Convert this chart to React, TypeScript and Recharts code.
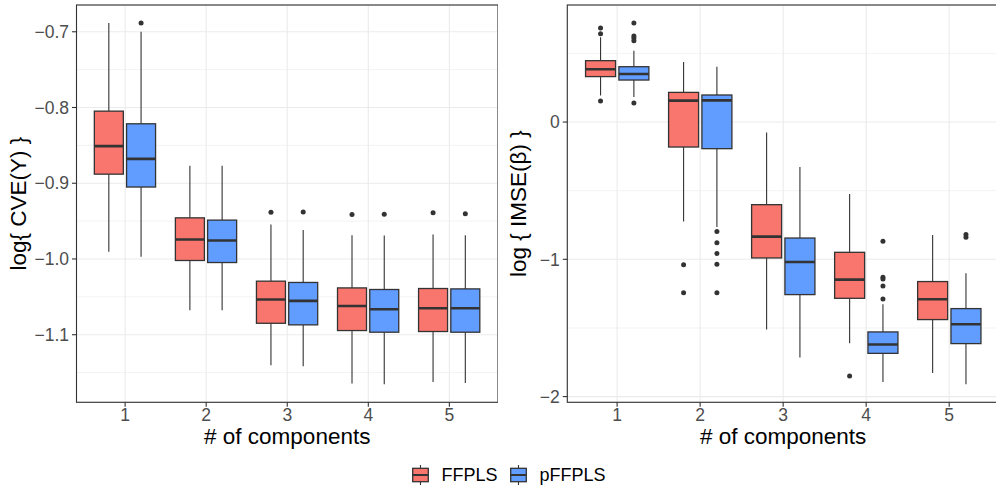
import React from 'react';
import * as Recharts from 'recharts';
import { ComposedChart, Bar, XAxis, YAxis, CartesianGrid } from 'recharts';

const groups = ['1', '2', '3', '4', '5'];

// left panel: log{ CVE(Y) }
const cveFfHigh = [-0.6885, -0.877, -0.9545, -0.9686, -0.9677];
const cveFfQ3 = [-0.8048, -0.9457, -1.0293, -1.0382, -1.039];
const cveFfMed = [-0.851, -0.9742, -1.0535, -1.062, -1.065];
const cveFfQ1 = [-0.888, -1.002, -1.0849, -1.0945, -1.0958];
const cveFfLow = [-0.9906, -1.0676, -1.1403, -1.1645, -1.1623];
const cveFfOut = [[], [], [-0.9382], [-0.9412], [-0.939]];

const cvePfHigh = [-0.7, -0.877, -0.9616, -0.969, -0.9686];
const cvePfQ3 = [-0.8215, -0.9487, -1.031, -1.0403, -1.0395];
const cvePfMed = [-0.8678, -0.9756, -1.0553, -1.0663, -1.065];
const cvePfQ1 = [-0.905, -1.0047, -1.087, -1.0967, -1.0967];
const cvePfLow = [-0.997, -1.0676, -1.1416, -1.1654, -1.1637];
const cvePfOut = [[-0.6885], [], [-0.938], [-0.941], [-0.9404]];

const cveMajor = [-1.1, -1.0, -0.9, -0.8, -0.7];
const cveMinor = [-1.15, -1.05, -0.95, -0.85, -0.75];

// right panel: log { IMSE(beta) }
const imseFfHigh = [0.617, 0.437, -0.077, -0.524, -0.823];
const imseFfQ3 = [0.447, 0.216, -0.602, -0.949, -1.162];
const imseFfMed = [0.384, 0.156, -0.835, -1.148, -1.291];
const imseFfQ1 = [0.331, -0.182, -0.99, -1.284, -1.439];
const imseFfLow = [0.194, -0.725, -1.512, -1.612, -1.828];
const imseFfOut = [[0.685, 0.644, 0.153], [-1.039, -1.243], [], [-1.85], []];

const imsePfHigh = [0.52, 0.403, -0.328, -1.328, -1.102];
const imsePfQ3 = [0.403, 0.197, -0.845, -1.529, -1.359];
const imsePfMed = [0.35, 0.158, -1.02, -1.621, -1.473];
const imsePfQ1 = [0.306, -0.194, -1.257, -1.685, -1.614];
const imsePfLow = [0.182, -0.765, -1.716, -1.894, -1.91];
const imsePfOut = [
  [0.721, 0.626, 0.612, 0.593, 0.138],
  [-0.798, -0.88, -0.958, -1.036, -1.243],
  [],
  [-0.869, -1.131, -1.143, -1.194, -1.289],
  [-0.82, -0.84],
];

const imseMajor = [-2, -1, 0];
const imseMinor = [-1.5, -0.5, 0.5];

const FF_COLOR = '#F8766D';
const PF_COLOR = '#619CFF';
const INK = '#333333';
const FONT = '"Liberation Sans", Arial, Helvetica, sans-serif';

type Stats = { low: number; q1: number; med: number; q3: number; high: number; out: number[] };

const stats = (low: number[], q1: number[], med: number[], q3: number[], high: number[], out: number[][]) =>
  low.map((_, i): Stats => ({ low: low[i], q1: q1[i], med: med[i], q3: q3[i], high: high[i], out: out[i] }));

const span = (s: Stats): [number, number] => [Math.min(s.low, ...s.out), Math.max(s.high, ...s.out)];

function makeRows(ff: Stats[], pf: Stats[]) {
  return groups.map((g, i) => ({ g, ff: ff[i], pf: pf[i], ffRange: span(ff[i]), pfRange: span(pf[i]) }));
}

// ggplot-style 5% expansion
function domainOf(rows: ReturnType<typeof makeRows>): [number, number] {
  const lo = Math.min(...rows.map((r) => Math.min(r.ffRange[0], r.pfRange[0])));
  const hi = Math.max(...rows.map((r) => Math.max(r.ffRange[1], r.pfRange[1])));
  const pad = (hi - lo) * 0.05;
  return [lo - pad, hi + pad];
}

const cveRows = makeRows(
  stats(cveFfLow, cveFfQ1, cveFfMed, cveFfQ3, cveFfHigh, cveFfOut),
  stats(cvePfLow, cvePfQ1, cvePfMed, cvePfQ3, cvePfHigh, cvePfOut)
);
const imseRows = makeRows(
  stats(imseFfLow, imseFfQ1, imseFfMed, imseFfQ3, imseFfHigh, imseFfOut),
  stats(imsePfLow, imsePfQ1, imsePfMed, imsePfQ3, imsePfHigh, imsePfOut)
);

// the bar spans [min, max] of the group; everything else is placed on the same linear scale
const BoxShape = (props: any) => {
  const { x, y, width, height, payload, statKey, boxFill } = props;
  const s: Stats = payload[statKey];
  const [lo, hi] = span(s);
  const top = Math.min(y, y + height);
  const h = Math.abs(height);
  const toY = (v: number) => top + ((hi - v) / (hi - lo)) * h;
  const cx = x + width / 2;
  return (
    <g>
      <line x1={cx} x2={cx} y1={toY(s.high)} y2={toY(s.q3)} stroke={INK} strokeWidth={1.1} />
      <line x1={cx} x2={cx} y1={toY(s.q1)} y2={toY(s.low)} stroke={INK} strokeWidth={1.1} />
      <rect
        x={x}
        y={toY(s.q3)}
        width={width}
        height={toY(s.q1) - toY(s.q3)}
        fill={boxFill}
        stroke={INK}
        strokeWidth={1.3}
      />
      <line x1={x} x2={x + width} y1={toY(s.med)} y2={toY(s.med)} stroke={INK} strokeWidth={2.6} />
      {s.out.map((v, k) => (
        <circle key={k} cx={cx} cy={toY(v)} r={2.5} fill={INK} />
      ))}
    </g>
  );
};

function PanelBorder() {
  const hook = (Recharts as any).usePlotArea;
  const area = hook ? hook() : null;
  if (!area) return null;
  return <rect x={area.x} y={area.y} width={area.width} height={area.height} fill="none" stroke={INK} strokeWidth={1.1} />;
}

const XTitle = (props: any) => {
  const vb = props.viewBox || { x: 0, y: 0, width: 0, height: 0 };
  return (
    <text x={vb.x + vb.width / 2} y={vb.y + vb.height - 6} textAnchor="middle" fontSize={22.5} fontFamily={FONT} fill="#000">
      # of components
    </text>
  );
};

const makeYTitle = (title: string) => (props: any) => {
  const vb = props.viewBox || { x: 0, y: 0, width: 0, height: 0 };
  const cx = vb.x + 18.5;
  const cy = vb.y + vb.height / 2;
  return (
    <text
      x={cx}
      y={cy}
      transform={`rotate(-90 ${cx} ${cy})`}
      textAnchor="middle"
      dominantBaseline="central"
      fontSize={22.5}
      fontFamily={FONT}
      fill="#000"
    >
      {title}
    </text>
  );
};

const minus = (s: string) => s.replace('-', '\u2212');

type PanelProps = {
  rows: ReturnType<typeof makeRows>;
  major: number[];
  minor: number[];
  fmt: (v: number) => string;
  title: string;
  width: number;
  axisWidth: number;
  pad: number;
};

function Panel({ rows, major, minor, fmt, title, width, axisWidth, pad }: PanelProps) {
  const domain = domainOf(rows);
  const tickStyle = { fill: '#4D4D4D', fontSize: 17.5, fontFamily: FONT };
  return (
    <ComposedChart
      width={width}
      height={450}
      data={rows}
      margin={{ top: 5, right: 0, bottom: 0, left: 0 }}
      barCategoryGap="12%"
      barGap="4%"
    >
      <XAxis
        xAxisId="main"
        dataKey="g"
        interval={0}
        padding={{ left: pad, right: pad }}
        height={47.7}
        axisLine={false}
        tickSize={4.5}
        tickMargin={1.5}
        tickLine={{ stroke: INK, strokeWidth: 1.1 }}
        tick={tickStyle}
        label={{ content: XTitle }}
      />
      <YAxis
        yAxisId="major"
        type="number"
        width={axisWidth}
        domain={domain}
        allowDataOverflow
        ticks={major}
        interval={0}
        tickFormatter={fmt}
        axisLine={false}
        tickSize={4.5}
        tickMargin={3}
        tickLine={{ stroke: INK, strokeWidth: 1.1 }}
        tick={tickStyle}
        label={{ content: makeYTitle(title) }}
      />
      <YAxis yAxisId="minor" type="number" hide domain={domain} allowDataOverflow ticks={minor} interval={0} />
      <CartesianGrid xAxisId="main" yAxisId="minor" vertical={false} stroke="#EBEBEB" strokeWidth={0.6} />
      <CartesianGrid xAxisId="main" yAxisId="major" stroke="#EBEBEB" strokeWidth={1.1} />
      <Bar
        xAxisId="main"
        yAxisId="major"
        dataKey="ffRange"
        isAnimationActive={false}
        shape={(p: any) => <BoxShape {...p} statKey="ff" boxFill={FF_COLOR} />}
      />
      <Bar
        xAxisId="main"
        yAxisId="major"
        dataKey="pfRange"
        isAnimationActive={false}
        shape={(p: any) => <BoxShape {...p} statKey="pf" boxFill={PF_COLOR} />}
      />
      <PanelBorder />
    </ComposedChart>
  );
}

const LegendKey = ({ color }: { color: string }) => (
  <svg width={17} height={20} style={{ display: 'block' }}>
    <line x1={8.5} x2={8.5} y1={0} y2={20} stroke={INK} strokeWidth={1.1} />
    <rect x={0.7} y={3.3} width={15.6} height={13.4} fill={color} stroke={INK} strokeWidth={1.3} />
    <line x1={0.7} x2={16.3} y1={10} y2={10} stroke={INK} strokeWidth={2} />
  </svg>
);

const legendItems = [
  { name: 'FFPLS', color: FF_COLOR },
  { name: 'pFFPLS', color: PF_COLOR },
];

export default function App() {
  return (
    <div
      style={{
        position: 'absolute',
        left: 0,
        top: 0,
        width: 996,
        height: 493,
        overflow: 'hidden',
        background: '#fff',
        fontFamily: FONT,
      }}
    >
      <div style={{ position: 'absolute', left: 0, top: 0 }}>
        <Panel
          rows={cveRows}
          major={cveMajor}
          minor={cveMinor}
          fmt={(v) => minus(v.toFixed(1))}
          title="log{ CVE(Y) }"
          width={498}
          axisWidth={76.5}
          pad={8.1}
        />
      </div>
      <div style={{ position: 'absolute', left: 500, top: 0 }}>
        <Panel
          rows={imseRows}
          major={imseMajor}
          minor={imseMinor}
          fmt={(v) => minus(String(v))}
          title="log { IMSE(β) }"
          width={499}
          axisWidth={67.3}
          pad={8.3}
        />
      </div>
      <div
        style={{
          position: 'absolute',
          left: 411.5,
          top: 465,
          display: 'flex',
          alignItems: 'center',
          fontSize: 18,
          color: '#000',
        }}
      >
        {legendItems.map((it, i) => (
          <div key={it.name} style={{ display: 'flex', alignItems: 'center', marginRight: i === 0 ? 12 : 0 }}>
            <LegendKey color={it.color} />
            <span style={{ marginLeft: 13, lineHeight: '20px' }}>{it.name}</span>
          </div>
        ))}
      </div>
    </div>
  );
}
